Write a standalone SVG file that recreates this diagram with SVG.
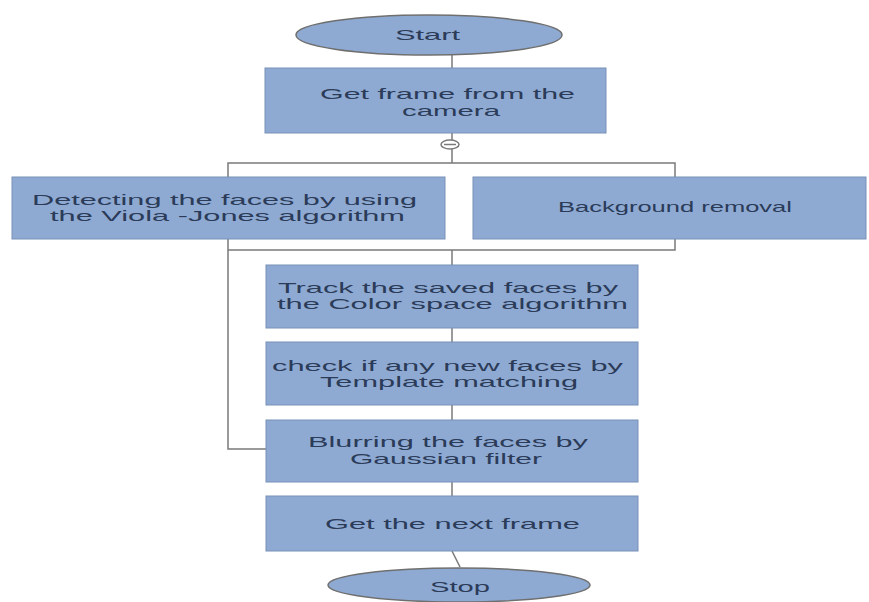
<svg xmlns="http://www.w3.org/2000/svg" width="869" height="602" viewBox="0 0 869 602">
<style>
.box{fill:#8eaad3;stroke:#7890b8;stroke-width:1}
.term{fill:#8eaad3;stroke:#6f6f6f;stroke-width:1.5}
.t{font-family:"Liberation Sans",Arial,sans-serif;font-size:14.5px;fill:#2b3b58}
.c{fill:none;stroke:#7a7a7a;stroke-width:1.5}
</style>
<rect width="869" height="602" fill="#ffffff"/>
<g id="connectors">
<path class="c" d="M452 55V68"/>
<path class="c" d="M452 133V140"/>
<ellipse class="c" cx="450" cy="144.5" rx="9" ry="4.5"/>
<path class="c" d="M444 144.5H456"/>
<path class="c" d="M452 149V163"/>
<path class="c" d="M228 177V163H675V177"/>
<path class="c" d="M675 239V250H228"/>
<path class="c" d="M228 239V449H266"/>
<path class="c" d="M452 250V265"/>
<path class="c" d="M452 328V342"/>
<path class="c" d="M452 405V420"/>
<path class="c" d="M452 482V496"/>
<path class="c" d="M452 551L460 567"/>
</g>
<g id="start">
<ellipse class="term" cx="429" cy="35" rx="133" ry="20"/>
<text class="t" x="395" y="40" textLength="65" lengthAdjust="spacingAndGlyphs">Start</text>
</g>
<g id="get-frame">
<rect class="box" x="265" y="68" width="341" height="65"/>
<text class="t" x="320" y="99" textLength="255" lengthAdjust="spacingAndGlyphs">Get frame from the</text>
<text class="t" x="402" y="116" textLength="98" lengthAdjust="spacingAndGlyphs">camera</text>
</g>
<g id="detect">
<rect class="box" x="12" y="177" width="433" height="62"/>
<text class="t" x="32" y="205" textLength="385" lengthAdjust="spacingAndGlyphs">Detecting the faces by using</text>
<text class="t" x="50" y="221" textLength="355" lengthAdjust="spacingAndGlyphs">the Viola -Jones algorithm</text>
</g>
<g id="background">
<rect class="box" x="473" y="177" width="393" height="62"/>
<text class="t" x="558" y="212" font-size="13" textLength="234" lengthAdjust="spacingAndGlyphs">Background removal</text>
</g>
<g id="track">
<rect class="box" x="266" y="265" width="372" height="63"/>
<text class="t" x="278" y="293" textLength="340" lengthAdjust="spacingAndGlyphs">Track the saved faces by</text>
<text class="t" x="277" y="309" textLength="351" lengthAdjust="spacingAndGlyphs">the Color space algorithm</text>
</g>
<g id="check">
<rect class="box" x="266" y="342" width="372" height="63"/>
<text class="t" x="272" y="371" textLength="351" lengthAdjust="spacingAndGlyphs">check if any new faces by</text>
<text class="t" x="320" y="387" textLength="258" lengthAdjust="spacingAndGlyphs">Template matching</text>
</g>
<g id="blur">
<rect class="box" x="266" y="420" width="372" height="62"/>
<text class="t" x="308" y="447" textLength="280" lengthAdjust="spacingAndGlyphs">Blurring the faces by</text>
<text class="t" x="350" y="464" textLength="192" lengthAdjust="spacingAndGlyphs">Gaussian filter</text>
</g>
<g id="next">
<rect class="box" x="266" y="496" width="372" height="55"/>
<text class="t" x="325" y="529" textLength="255" lengthAdjust="spacingAndGlyphs">Get the next frame</text>
</g>
<g id="stop">
<ellipse class="term" cx="459" cy="585" rx="131" ry="17"/>
<text class="t" x="430" y="592" textLength="60" lengthAdjust="spacingAndGlyphs">Stop</text>
</g>
</svg>
